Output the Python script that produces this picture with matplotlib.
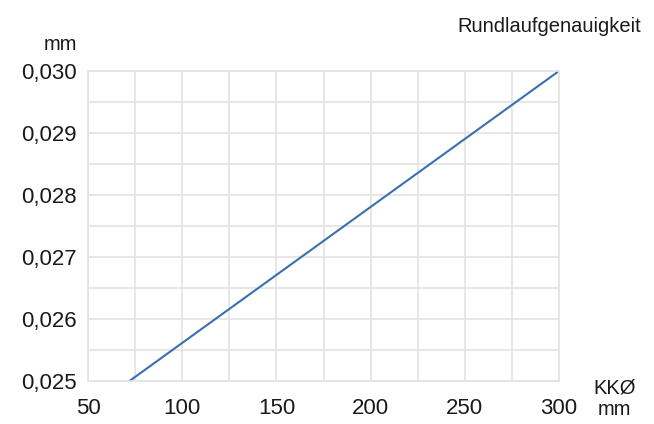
import matplotlib.pyplot as plt
from matplotlib.ticker import MultipleLocator, FuncFormatter

plt.rcParams['font.family'] = ['Liberation Sans', 'DejaVu Sans']

diameter = [72, 300]
runout = [0.025, 0.030]

x_ticks = [50, 100, 150, 200, 250, 300]
y_ticks = [0.025, 0.026, 0.027, 0.028, 0.029, 0.030]

fig = plt.figure(figsize=(6.54, 4.24), dpi=100)
ax = fig.add_axes([0.1346, 0.1014, 0.7201, 0.7311])

ax.plot(diameter, runout, color='#3a6fb0', linewidth=1.5)

ax.set_xlim(50, 300)
ax.set_ylim(0.025, 0.030)
ax.set_xticks(x_ticks)
ax.set_yticks(y_ticks)
ax.xaxis.set_minor_locator(MultipleLocator(25))
ax.yaxis.set_minor_locator(MultipleLocator(0.0005))
ax.yaxis.set_major_formatter(FuncFormatter(lambda v, p: ('%.3f' % v).replace('.', ',')))

ax.grid(which='both', color='#e3e3e3', linewidth=1.2)
ax.set_axisbelow(True)
for s in ax.spines.values():
    s.set_color('#e3e3e3')
    s.set_linewidth(1.2)
ax.tick_params(which='both', length=0, labelsize=16, colors='#1a1a1a')
ax.tick_params(axis='x', pad=12)
ax.tick_params(axis='y', pad=8)

fig.text(0.118, 0.895, 'mm', fontsize=14.5, ha='right', va='center', color='#1a1a1a')
fig.text(0.94, 0.085, 'KKØ', fontsize=14.5, ha='center', va='center', color='#1a1a1a')
fig.text(0.94, 0.035, 'mm', fontsize=14.5, ha='center', va='center', color='#1a1a1a')
fig.text(0.98, 0.938, 'Rundlaufgenauigkeit', fontsize=14.5, ha='right', va='center', color='#1a1a1a')

fig.savefig('out.png', dpi=100)
